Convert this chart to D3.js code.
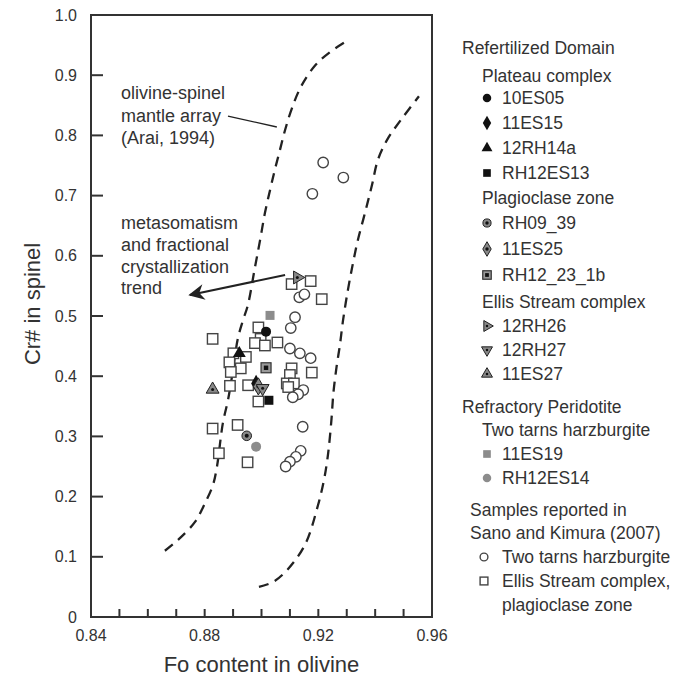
<!DOCTYPE html>
<html>
<head>
<meta charset="utf-8">
<script src="https://cdn.jsdelivr.net/npm/d3@7"></script>
<style>
  body { margin: 0; background: #fff; }
  svg { font-family: "Liberation Sans", Arial, sans-serif; }
</style>
</head>
<body>
<svg id="chart" width="678" height="688"></svg>
<script>
// x ticks (Fo) and y ticks (Cr#)
const xLabelTicks = [0.84, 0.88, 0.92, 0.96];
const xMinorTicks = [0.85, 0.86, 0.87, 0.88, 0.89, 0.90, 0.91, 0.92, 0.93, 0.94, 0.95];
const yTicks = [0, 0.1, 0.2, 0.3, 0.4, 0.5, 0.6, 0.7, 0.8, 0.9, 1.0];

// Arai (1994) olivine-spinel mantle array bounds
const arrayLeft = [
  [0.866, 0.110], [0.8706, 0.128], [0.8766, 0.158], [0.8801, 0.189], [0.8829, 0.219],
  [0.8843, 0.249], [0.8864, 0.322], [0.8882, 0.360], [0.8896, 0.399], [0.8917, 0.463],
  [0.8935, 0.493], [0.8952, 0.518], [0.8977, 0.581], [0.8995, 0.626], [0.9012, 0.671],
  [0.9030, 0.709], [0.9047, 0.743], [0.9065, 0.776], [0.9083, 0.809], [0.9107, 0.845],
  [0.9140, 0.882], [0.9190, 0.917], [0.9240, 0.938], [0.9294, 0.955]
];
const arrayRight = [
  [0.8991, 0.050], [0.9040, 0.058], [0.9090, 0.078], [0.9153, 0.120], [0.9199, 0.186],
  [0.9220, 0.228], [0.9230, 0.256], [0.9237, 0.282], [0.9246, 0.327], [0.9253, 0.372],
  [0.9264, 0.415], [0.9276, 0.452], [0.9287, 0.493], [0.9304, 0.543], [0.9322, 0.588],
  [0.9339, 0.626], [0.9364, 0.671], [0.9389, 0.718], [0.9410, 0.760], [0.9445, 0.795],
  [0.9491, 0.826], [0.9554, 0.865]
];

// Sano and Kimura (2007)
const sanoHarzburgite = [
  [0.9217, 0.755], [0.9288, 0.730], [0.9179, 0.703], [0.9133, 0.531], [0.9151, 0.536],
  [0.9118, 0.498], [0.9103, 0.480], [0.9100, 0.446], [0.9135, 0.438], [0.9173, 0.430],
  [0.9147, 0.377], [0.9129, 0.370], [0.9110, 0.365], [0.9145, 0.316], [0.9138, 0.276],
  [0.9121, 0.266], [0.9100, 0.258], [0.9085, 0.250]
];
const sanoEllis = [
  [0.9106, 0.553], [0.9173, 0.558], [0.9212, 0.528], [0.8989, 0.481], [0.8997, 0.462],
  [0.8977, 0.455], [0.9012, 0.451], [0.9056, 0.456], [0.8828, 0.462], [0.8901, 0.438],
  [0.8945, 0.432], [0.8887, 0.423], [0.8927, 0.413], [0.8892, 0.407], [0.9106, 0.413],
  [0.9177, 0.406], [0.9100, 0.402], [0.9089, 0.388], [0.9114, 0.388], [0.9094, 0.382],
  [0.8889, 0.384], [0.8953, 0.385], [0.8989, 0.358], [0.8828, 0.313], [0.8916, 0.319],
  [0.8850, 0.272], [0.8951, 0.257]
];

// this study: [name, Fo, Cr#]
const samples = [
  ["10ES05", 0.9016, 0.474],
  ["11ES15", 0.8981, 0.388],
  ["12RH14a", 0.8922, 0.438],
  ["RH12ES13", 0.9026, 0.360],
  ["RH09_39", 0.8948, 0.301],
  ["11ES25", 0.8989, 0.383],
  ["RH12_23_1b", 0.9016, 0.414],
  ["12RH26", 0.9126, 0.564],
  ["12RH27", 0.9004, 0.380],
  ["11ES27", 0.8828, 0.378],
  ["11ES19", 0.9030, 0.501],
  ["RH12ES14", 0.8981, 0.283]
];

// legend rows: [kind, text, symbol]
const legendRows = [
  ["h1", "Refertilized Domain"],
  ["h2", "Plateau complex"],
  ["item", "10ES05", "10ES05"],
  ["item", "11ES15", "11ES15"],
  ["item", "12RH14a", "12RH14a"],
  ["item", "RH12ES13", "RH12ES13"],
  ["h2", "Plagioclase zone"],
  ["item", "RH09_39", "RH09_39"],
  ["item", "11ES25", "11ES25"],
  ["item", "RH12_23_1b", "RH12_23_1b"],
  ["h2", "Ellis Stream complex"],
  ["item", "12RH26", "12RH26"],
  ["item", "12RH27", "12RH27"],
  ["item", "11ES27", "11ES27"],
  ["h1", "Refractory Peridotite"],
  ["h2", "Two tarns harzburgite"],
  ["item", "11ES19", "11ES19"],
  ["item", "RH12ES14", "RH12ES14"],
  ["h3", "Samples reported in"],
  ["h3", "Sano and Kimura (2007)"],
  ["item2", "Two tarns harzburgite", "sanoCircle"],
  ["item2", "Ellis Stream complex,", "sanoSquare"],
  ["item2", "plagioclase zone", null]
];
const legendY = [48, 76, 98, 123, 148, 173, 198, 223, 249, 275, 302, 326, 350, 374, 407, 430, 454, 478, 510, 533, 557, 581, 605];

const svg = d3.select("#chart");
const ink = "#333";

const x = d3.scaleLinear().domain([0.84, 0.96]).range([91, 432]);
const y = d3.scaleLinear().domain([0, 1]).range([617, 15]);

// ---- symbols
const sym = (type, size) => d3.symbol().type(type).size(size)();

function drawSymbol(g, name, scale = 1) {
  const s = scale;
  switch (name) {
    case "10ES05":
      g.append("circle").attr("r", 5 * s).attr("fill", "#111");
      break;
    case "11ES15":
      g.append("path").attr("d", sym(d3.symbolDiamond, 85 * s * s)).attr("fill", "#111");
      break;
    case "12RH14a":
      g.append("path").attr("d", sym(d3.symbolTriangle, 72 * s * s)).attr("fill", "#111");
      break;
    case "RH12ES13":
      g.append("rect").attr("x", -4.5 * s).attr("y", -4.5 * s).attr("width", 9 * s).attr("height", 9 * s).attr("fill", "#111");
      break;
    case "RH09_39":
      g.append("circle").attr("r", 4.8 * s).attr("fill", "#888").attr("stroke", "#222").attr("stroke-width", 1);
      g.append("circle").attr("r", 2 * s).attr("fill", "#111");
      break;
    case "11ES25":
      g.append("path").attr("d", sym(d3.symbolDiamond, 85 * s * s)).attr("fill", "#888").attr("stroke", "#222").attr("stroke-width", 1);
      g.append("circle").attr("r", 2 * s).attr("fill", "#111");
      break;
    case "RH12_23_1b":
      g.append("rect").attr("x", -5 * s).attr("y", -5 * s).attr("width", 10 * s).attr("height", 10 * s)
        .attr("fill", "#999").attr("stroke", "#333").attr("stroke-width", 1.2);
      g.append("rect").attr("x", -2.2 * s).attr("y", -2.2 * s).attr("width", 4.4 * s).attr("height", 4.4 * s).attr("fill", "#111");
      break;
    case "12RH26":
      g.append("path").attr("d", sym(d3.symbolTriangle, 72 * s * s)).attr("transform", "rotate(90)")
        .attr("fill", "#888").attr("stroke", "#222").attr("stroke-width", 1);
      g.append("circle").attr("r", 1.5 * s).attr("fill", "#111");
      break;
    case "12RH27":
      g.append("path").attr("d", sym(d3.symbolTriangle, 72 * s * s)).attr("transform", "rotate(180)")
        .attr("fill", "#888").attr("stroke", "#222").attr("stroke-width", 1);
      g.append("circle").attr("r", 1.5 * s).attr("fill", "#111");
      break;
    case "11ES27":
      g.append("path").attr("d", sym(d3.symbolTriangle, 72 * s * s))
        .attr("fill", "#888").attr("stroke", "#222").attr("stroke-width", 1);
      g.append("circle").attr("r", 1.5 * s).attr("fill", "#111");
      break;
    case "11ES19":
      g.append("rect").attr("x", -4.5 * s).attr("y", -4.5 * s).attr("width", 9 * s).attr("height", 9 * s).attr("fill", "#8c8c8c");
      break;
    case "RH12ES14":
      g.append("circle").attr("r", 5 * s).attr("fill", "#8c8c8c");
      break;
    case "sanoCircle":
      g.append("circle").attr("r", 5.2 * s).attr("fill", "#fff").attr("stroke", "#444").attr("stroke-width", 1.4);
      break;
    case "sanoSquare":
      g.append("rect").attr("x", -5.2 * s).attr("y", -5.2 * s).attr("width", 10.4 * s).attr("height", 10.4 * s)
        .attr("fill", "#fff").attr("stroke", "#444").attr("stroke-width", 1.4);
      break;
  }
}

// ---- frame and ticks
const axes = svg.append("g");
axes.append("rect")
  .attr("x", x(0.84)).attr("y", y(1))
  .attr("width", x(0.96) - x(0.84)).attr("height", y(0) - y(1))
  .attr("fill", "none").attr("stroke", ink).attr("stroke-width", 2);

axes.selectAll(".xt").data(xMinorTicks).join("line")
  .attr("x1", d => x(d)).attr("x2", d => x(d))
  .attr("y1", y(0)).attr("y2", y(0) - 8)
  .attr("stroke", ink).attr("stroke-width", 2);

axes.selectAll(".yt").data(yTicks.filter(d => d > 0 && d < 1)).join("line")
  .attr("x1", x(0.84)).attr("x2", x(0.84) + 12)
  .attr("y1", d => y(d)).attr("y2", d => y(d))
  .attr("stroke", ink).attr("stroke-width", 2);

axes.selectAll(".xl").data(xLabelTicks).join("text")
  .attr("x", d => x(d)).attr("y", y(0) + 24)
  .attr("text-anchor", "middle").attr("font-size", 16).attr("fill", ink)
  .text(d => d3.format(".2f")(d));

axes.selectAll(".yl").data(yTicks).join("text")
  .attr("x", x(0.84) - 14).attr("y", d => y(d))
  .attr("dy", "0.35em")
  .attr("text-anchor", "end").attr("font-size", 16).attr("fill", ink)
  .text(d => d === 0 ? "0" : d3.format(".1f")(d));

svg.append("text")
  .attr("x", (x(0.84) + x(0.96)) / 2).attr("y", 672)
  .attr("text-anchor", "middle").attr("font-size", 22).attr("fill", ink)
  .text("Fo content in olivine");

svg.append("text")
  .attr("transform", `translate(40,${y(0.52)}) rotate(-90)`)
  .attr("text-anchor", "middle").attr("font-size", 22).attr("fill", ink)
  .text("Cr# in spinel");

// ---- mantle array
const line = d3.line().x(d => x(d[0])).y(d => y(d[1])).curve(d3.curveCatmullRom);
svg.selectAll(".array").data([arrayLeft, arrayRight]).join("path")
  .attr("d", line)
  .attr("fill", "none").attr("stroke", "#222")
  .attr("stroke-width", 2.3).attr("stroke-dasharray", "10,7");

// ---- annotations
const note = svg.append("g").attr("font-size", 18).attr("fill", ink);
note.selectAll(".n1").data(["olivine-spinel", "mantle array", "(Arai, 1994)"]).join("text")
  .attr("x", 121).attr("y", (d, i) => 99 + i * 22.5).text(d => d);
note.selectAll(".n2").data(["metasomatism", "and fractional", "crystallization", "trend"]).join("text")
  .attr("x", 121).attr("y", (d, i) => 229 + i * 21.8).text(d => d);

svg.append("line")
  .attr("x1", x(0.8882)).attr("y1", y(0.832))
  .attr("x2", x(0.9054)).attr("y2", y(0.814))
  .attr("stroke", "#222").attr("stroke-width", 1.4);

svg.append("defs").append("marker")
  .attr("id", "head").attr("viewBox", "0 0 10 10")
  .attr("refX", 9).attr("refY", 5)
  .attr("markerWidth", 11).attr("markerHeight", 8).attr("markerUnits", "strokeWidth")
  .attr("orient", "auto")
  .append("path").attr("d", "M0,0 L10,5 L0,10 L3,5 Z").attr("fill", "#222");

svg.append("line")
  .attr("x1", x(0.9083)).attr("y1", y(0.568))
  .attr("x2", x(0.8748)).attr("y2", y(0.535))
  .attr("stroke", "#222").attr("stroke-width", 2)
  .attr("marker-end", "url(#head)");

// ---- points
const pts = svg.append("g");
pts.selectAll(".sq").data(sanoEllis).join("g")
  .attr("transform", d => `translate(${x(d[0])},${y(d[1])})`)
  .each(function () { drawSymbol(d3.select(this), "sanoSquare"); });
pts.selectAll(".ci").data(sanoHarzburgite).join("g")
  .attr("transform", d => `translate(${x(d[0])},${y(d[1])})`)
  .each(function () { drawSymbol(d3.select(this), "sanoCircle"); });
pts.selectAll(".sm").data(samples).join("g")
  .attr("transform", d => `translate(${x(d[1])},${y(d[2])})`)
  .each(function (d) { drawSymbol(d3.select(this), d[0]); });

// ---- legend
const indent = { h1: 462, h2: 482, h3: 470, item: 502, item2: 502 };
const symX = { item: 487, item2: 484 };
const legend = svg.append("g").attr("font-size", 17.5).attr("fill", ink);
legendRows.forEach((r, i) => {
  const [kind, label, s] = r;
  legend.append("text")
    .attr("x", indent[kind]).attr("y", legendY[i]).attr("dy", "0.35em")
    .text(label);
  if (s) {
    const g = legend.append("g").attr("transform", `translate(${symX[kind]},${legendY[i]})`);
    drawSymbol(g, s, kind === "item2" ? 0.75 : 0.85);
  }
});
</script>
</body>
</html>
